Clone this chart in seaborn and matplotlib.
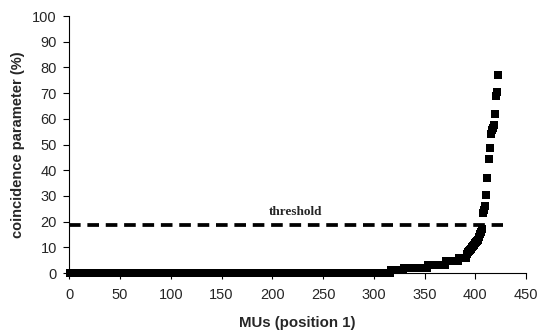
import numpy as np
import pandas as pd
import matplotlib
matplotlib.use("Agg")
import matplotlib.pyplot as plt
import seaborn as sns

# sorted coincidence values per MU
# long flat part as (value, how many MUs)
step_values = [0, 1, 2, 3, 4.5, 6]
step_counts = [316, 13, 23, 18, 13, 8]
# the steep tail, one value per MU
tail_values = [7.5, 8, 8.5, 9, 9.5, 10, 10.5, 11, 11.5, 12, 12.5, 13, 14, 15, 16, 17,
               23.5, 24.5, 26, 30.5, 37, 44.5, 48.5, 54, 55.5, 56.5, 57.5, 62, 69, 70.5, 77]
threshold = 18.8
x_ticks = [0, 50, 100, 150, 200, 250, 300, 350, 400, 450]
y_ticks = [0, 10, 20, 30, 40, 50, 60, 70, 80, 90, 100]

coincidence = np.concatenate([np.repeat(step_values, step_counts), tail_values])
df = pd.DataFrame({"MU": np.arange(1, len(coincidence) + 1), "coincidence": coincidence})

sns.set_style("ticks")
plt.rcParams["font.family"] = ["Liberation Sans", "DejaVu Sans"]

fig = plt.figure(figsize=(5.39, 3.34), dpi=100)
ax = fig.add_axes([0.1286, 0.1826, 0.8474, 0.7694])

sns.scatterplot(data=df, x="MU", y="coincidence", marker="s", s=30, color="black",
                linewidth=0, ax=ax, zorder=3, clip_on=False)
ax.hlines(threshold, 0, 427, colors="black", linewidth=2.7, linestyles=(0, (3.1, 1.8)))
ax.text(223, threshold + 2.8, "threshold", family="Liberation Serif", fontweight="bold",
        fontsize=9.5, ha="center", va="bottom")

ax.set_xlim(0, 450)
ax.set_ylim(0, 100)
ax.set_xticks(x_ticks)
ax.set_yticks(y_ticks)
ax.tick_params(labelsize=10.5, length=4, width=0.8, color="black", pad=5)
ax.tick_params(axis="x", pad=7)
for s in ["left", "bottom"]:
    ax.spines[s].set_linewidth(0.8)
    ax.spines[s].set_color("black")
sns.despine(ax=ax)
ax.set_xlabel("MUs (position 1)", fontsize=10.8, fontweight="bold", labelpad=10)
ax.set_ylabel("coincidence parameter (%)", fontsize=10.5, fontweight="bold", labelpad=5)

fig.savefig("out.png", dpi=100)
